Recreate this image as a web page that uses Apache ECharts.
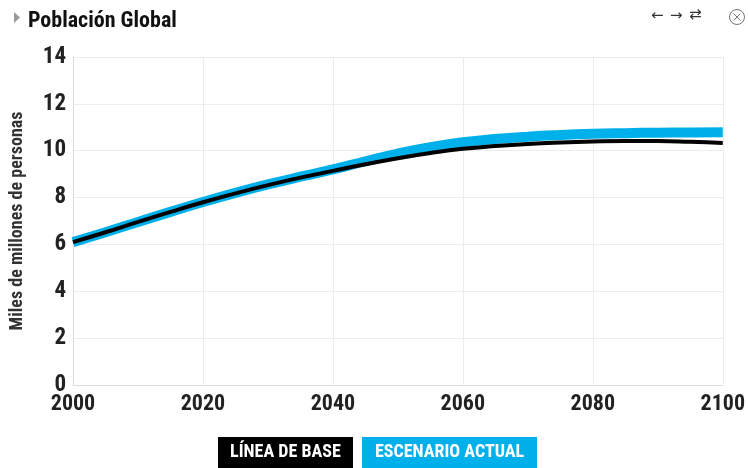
<!DOCTYPE html>
<html>
<head>
<meta charset="utf-8">
<script src="https://cdn.jsdelivr.net/npm/echarts@6/dist/echarts.min.js"></script>
<style>
  html, body { margin: 0; padding: 0; background: #fff; }
  #chart { width: 748px; height: 468px; }
</style>
</head>
<body>
<div id="chart"></div>
<script>
// Global population projections, billions of people (5-year steps)
const years = [2000, 2005, 2010, 2015, 2020, 2025, 2030, 2035, 2040, 2045, 2050,
               2055, 2060, 2065, 2070, 2075, 2080, 2085, 2090, 2095, 2100];
const baseline = [6.1, 6.52, 6.96, 7.39, 7.8, 8.18, 8.53, 8.85, 9.14, 9.42, 9.68,
                  9.9, 10.08, 10.2, 10.29, 10.35, 10.39, 10.41, 10.41, 10.38, 10.33];
const current = [6.1, 6.52, 6.96, 7.39, 7.81, 8.2, 8.56, 8.89, 9.2, 9.55, 9.88,
                 10.15, 10.36, 10.5, 10.6, 10.67, 10.72, 10.75, 10.77, 10.78, 10.79];
const xTicks = [2000, 2020, 2040, 2060, 2080, 2100];
const yTicks = [0, 2, 4, 6, 8, 10, 12, 14];
const seriesNames = ['LÍNEA DE BASE', 'ESCENARIO ACTUAL'];
const titleText = 'Población Global';
const yAxisTitle = 'Miles de millones de personas';

const FONT = "'Roboto Condensed', 'Liberation Sans Narrow', 'Roboto', sans-serif";
const BLUE = '#00b0ea';

const chart = echarts.init(document.getElementById('chart'));

const pairs = (ys) => years.map((y, i) => [y, ys[i]]);

chart.setOption({
  animation: false,
  title: {
    text: titleText,
    left: 23, top: 5,
    textStyle: { fontFamily: FONT, fontSize: 22, fontWeight: 'bold', color: '#111' }
  },
  grid: { left: 73, right: 25, top: 57, bottom: 83 },
  xAxis: {
    type: 'value',
    min: 2000, max: 2100, interval: 20,
    axisLine: { show: true, lineStyle: { color: '#dcdcdc' } },
    axisTick: { show: false },
    splitLine: { show: true, lineStyle: { color: '#ececec' } },
    axisLabel: {
      margin: 8,
      fontFamily: FONT, fontSize: 22, fontWeight: 'bold', color: '#222',
      formatter: (v) => xTicks.includes(v) ? String(v) : ''
    }
  },
  yAxis: {
    type: 'value',
    min: 0, max: 14, interval: 2,
    name: yAxisTitle,
    nameLocation: 'middle',
    nameGap: 47,
    nameTextStyle: { fontFamily: FONT, fontSize: 18, fontWeight: 'bold', color: '#333' },
    axisLine: { show: true, lineStyle: { color: '#dcdcdc' } },
    axisTick: { show: false },
    splitLine: { show: true, lineStyle: { color: '#ececec' } },
    axisLabel: {
      margin: 7,
      fontFamily: FONT, fontSize: 23, fontWeight: 'bold', color: '#222',
      formatter: (v) => yTicks.includes(v) ? String(v) : ''
    }
  },
  series: [
    {
      name: seriesNames[1], type: 'line', smooth: true, showSymbol: false,
      data: pairs(current),
      lineStyle: { color: BLUE, width: 10 }, z: 2
    },
    {
      name: seriesNames[0], type: 'line', smooth: true, showSymbol: false,
      data: pairs(baseline),
      lineStyle: { color: '#000', width: 4 }, z: 3
    }
  ],
  graphic: [
    // collapse marker beside the title
    { type: 'polygon', shape: { points: [[14, 12], [20, 17.5], [14, 23]] }, style: { fill: '#999' } },
    // navigation icons
    { type: 'text', left: 651, top: 9, style: { text: '←', font: "15px 'DejaVu Sans'", fill: '#333' } },
    { type: 'text', left: 670, top: 9, style: { text: '→', font: "15px 'DejaVu Sans'", fill: '#333' } },
    { type: 'text', left: 689, top: 8, style: { text: '⇄', font: "15px 'DejaVu Sans'", fill: '#333' } },
    { type: 'circle', shape: { cx: 737, cy: 17, r: 7.5 }, style: { fill: 'none', stroke: '#777', lineWidth: 1 } },
    { type: 'line', shape: { x1: 733.5, y1: 13.5, x2: 740.5, y2: 20.5 }, style: { stroke: '#777', lineWidth: 1 } },
    { type: 'line', shape: { x1: 740.5, y1: 13.5, x2: 733.5, y2: 20.5 }, style: { stroke: '#777', lineWidth: 1 } },
    // legend chips
    { type: 'rect', shape: { x: 218, y: 437, width: 135, height: 31 }, style: { fill: '#000' } },
    { type: 'text', x: 285.5, y: 452.5, style: { text: seriesNames[0], font: "bold 18px " + FONT, fill: '#fff', align: 'center', verticalAlign: 'middle' } },
    { type: 'rect', shape: { x: 362, y: 437, width: 175, height: 31 }, style: { fill: BLUE } },
    { type: 'text', x: 449.5, y: 452.5, style: { text: seriesNames[1], font: "bold 18px " + FONT, fill: '#fff', align: 'center', verticalAlign: 'middle' } }
  ]
});
</script>
</body>
</html>
